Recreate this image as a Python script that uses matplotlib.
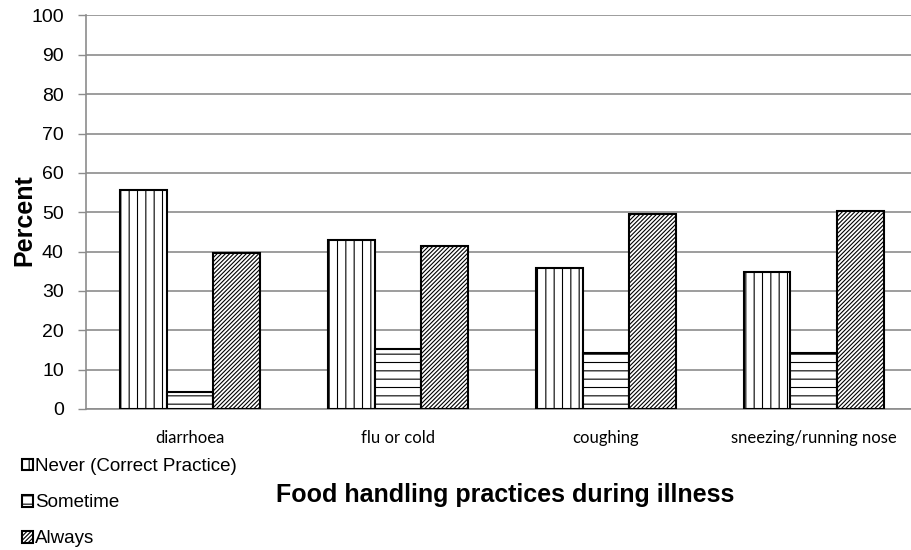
import numpy as np
import matplotlib.pyplot as plt
from matplotlib.patches import Patch

plt.rcParams["hatch.linewidth"] = 0.8

categories = ["diarrhoea", "flu or cold", "coughing", "sneezing/running nose"]
series_names = ["Never (Correct Practice)", "Sometime", "Always"]
never = [55.7, 43.0, 35.8, 34.9]
sometime = [4.3, 15.2, 14.3, 14.3]
always = [39.6, 41.3, 49.5, 50.3]
y_ticks = list(range(0, 101, 10))

hatches = ["||", "--", "////////"]
grid_grey = "#8c8c8c"

fig = plt.figure(figsize=(9.12, 5.5), dpi=100)
# plot area runs a little past the right edge of the figure
ax = fig.add_axes([0.0943, 0.2564, 0.912, 0.7155])

x = np.arange(len(categories))
w = 0.224
for i, (vals, h) in enumerate(zip([never, sometime, always], hatches)):
    ax.bar(x + (i - 1) * w, vals, width=w, facecolor="white",
           edgecolor="black", linewidth=1.5, hatch=h, zorder=3)

ax.set_xlim(-0.5, 3.5)
ax.set_ylim(0, 100)
ax.set_yticks(y_ticks)
ax.set_yticklabels([str(t) for t in y_ticks], family="Liberation Sans", fontsize=14)
ax.set_xticks(x)
ax.set_xticklabels(categories, family="Lato", fontsize=12)
ax.tick_params(axis="x", length=0, pad=15)
ax.tick_params(axis="y", length=6, color=grid_grey, width=1, pad=10)

ax.yaxis.grid(True, color=grid_grey, linewidth=1.2, zorder=0)
for s in ["top", "right"]:
    ax.spines[s].set_visible(False)
for s in ["left", "bottom"]:
    ax.spines[s].set_color(grid_grey)
    ax.spines[s].set_linewidth(1.2)

fig.text(0.027, 0.60, "Percent", rotation=90, ha="center", va="center",
         family="Liberation Sans", fontsize=18, fontweight="bold")
fig.text(0.554, 0.10, "Food handling practices during illness", ha="center",
         va="center", family="Liberation Sans", fontsize=18, fontweight="bold")

handles = [Patch(facecolor="white", edgecolor="black", hatch=h, linewidth=1.5)
           for h in hatches]
fig.legend(handles, series_names, loc="upper left", bbox_to_anchor=(0.024, 0.167),
           frameon=False, prop={"family": "Liberation Sans", "size": 13.5},
           handlelength=0.6, handleheight=0.6, handletextpad=0.12,
           labelspacing=1.02, borderaxespad=0, borderpad=0)

fig.savefig("out.png", dpi=100)
